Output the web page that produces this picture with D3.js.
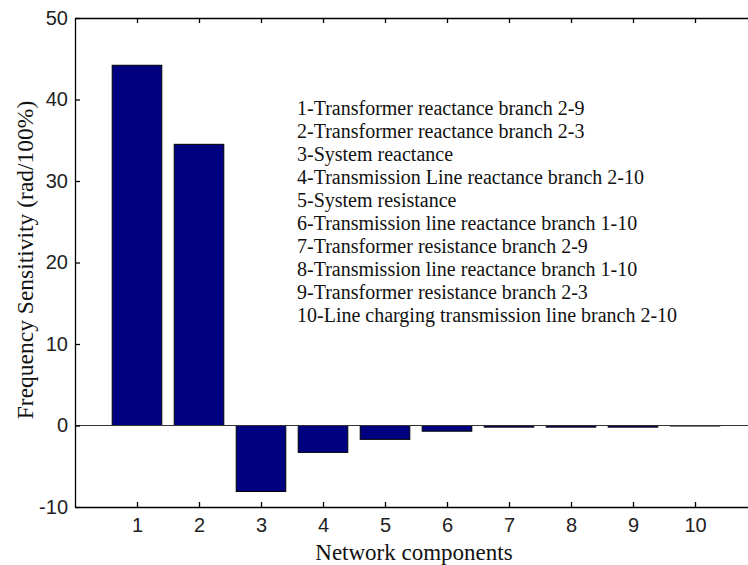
<!DOCTYPE html>
<html>
<head>
<meta charset="utf-8">
<script src="https://cdn.jsdelivr.net/npm/d3@7"></script>
<style>
  html, body { margin: 0; padding: 0; background: #fff; }
  svg { display: block; }
</style>
</head>
<body>
<svg id="chart" width="748" height="565"></svg>
<script>
// Sensitivity of system frequency to each network component
const components = [1, 2, 3, 4, 5, 6, 7, 8, 9, 10];
const sensitivity = [44.2, 34.5, -8.1, -3.3, -1.7, -0.7, -0.2, -0.2, -0.2, 0];
const yTicks = [-10, 0, 10, 20, 30, 40, 50];
const descriptions = [
  "1-Transformer reactance branch 2-9",
  "2-Transformer reactance branch 2-3",
  "3-System reactance",
  "4-Transmission Line reactance branch 2-10",
  "5-System resistance",
  "6-Transmission line reactance branch 1-10",
  "7-Transformer resistance branch 2-9",
  "8-Transmission line reactance branch 1-10",
  "9-Transformer resistance branch 2-3",
  "10-Line charging transmission line branch 2-10"
];

const svg = d3.select("#chart");
const plotL = 75, plotR = 757, plotT = 18, plotB = 507;

const x = d3.scaleLinear().domain([0, 11]).range([plotL, plotR]);
const y = d3.scaleLinear().domain([-10, 50]).range([plotB, plotT]);
const barW = (x(1) - x(0)) * 0.8;

const tickFont = "'Liberation Sans', Arial, sans-serif";
const serif = "'Liberation Serif', 'Times New Roman', serif";
const plain = (d) => String(d); // ASCII hyphen for negatives

// bars
svg.append("g").selectAll("rect")
  .data(components)
  .join("rect")
  .attr("x", (d) => x(d) - barW / 2)
  .attr("width", barW)
  .attr("y", (d, i) => y(Math.max(0, sensitivity[i])))
  .attr("height", (d, i) => Math.max(0.5, Math.abs(y(sensitivity[i]) - y(0))))
  .attr("fill", "#000080")
  .attr("stroke", "#000")
  .attr("stroke-width", 1);

// baseline at zero
svg.append("line")
  .attr("x1", plotL).attr("x2", plotR)
  .attr("y1", y(0)).attr("y2", y(0))
  .attr("stroke", "#333").attr("stroke-width", 1.2);

// axes with inward ticks, box style
const bottomAxis = d3.axisBottom(x).tickValues(components).tickSize(-5).tickPadding(11).tickFormat(plain);
const topAxis = d3.axisTop(x).tickValues(components).tickSize(-5).tickFormat("");
const leftAxis = d3.axisLeft(y).tickValues(yTicks).tickSize(-5).tickPadding(7).tickFormat(plain);
const rightAxis = d3.axisRight(y).tickValues(yTicks).tickSize(-5).tickFormat("");

function style(g) {
  g.selectAll(".domain").attr("stroke", "#000").attr("stroke-width", 1.3);
  g.selectAll(".tick line").attr("stroke", "#000").attr("stroke-width", 1.3);
  g.selectAll(".tick text").attr("fill", "#222").style("font-family", tickFont).style("font-size", "20px");
}

svg.append("g").attr("transform", `translate(0,${plotB})`).call(bottomAxis.tickSizeOuter(0)).call(style);
svg.append("g").attr("transform", `translate(0,${plotT})`).call(topAxis.tickSizeOuter(0)).call(style);
svg.append("g").attr("transform", `translate(${plotL},0)`).call(leftAxis.tickSizeOuter(0)).call(style);
svg.append("g").attr("transform", `translate(${plotR},0)`).call(rightAxis.tickSizeOuter(0)).call(style);

// axis titles
svg.append("text")
  .attr("x", 414).attr("y", 560)
  .attr("text-anchor", "middle")
  .style("font-family", serif).style("font-size", "23px").attr("fill", "#111")
  .text("Network components");

svg.append("text")
  .attr("transform", `translate(33,260) rotate(-90)`)
  .attr("text-anchor", "middle")
  .style("font-family", serif).style("font-size", "23.5px").attr("fill", "#111")
  .text("Frequency Sensitivity (rad/100%)");

// component descriptions
svg.append("g").selectAll("text")
  .data(descriptions)
  .join("text")
  .attr("x", 297)
  .attr("y", (d, i) => 115 + i * 23)
  .style("font-family", serif).style("font-size", "20px").attr("fill", "#111")
  .text((d) => d);
</script>
</body>
</html>
